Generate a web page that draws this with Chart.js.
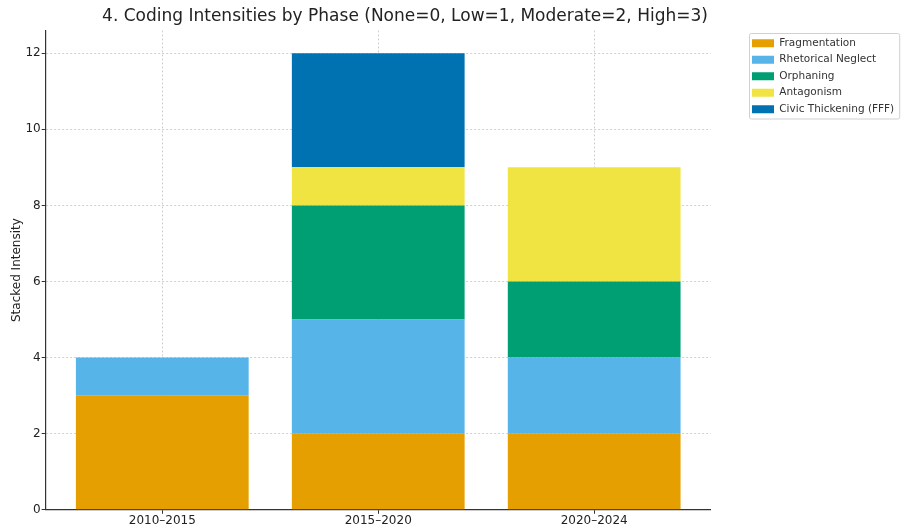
<!DOCTYPE html>
<html>
<head>
<meta charset="utf-8">
<script src="https://cdn.jsdelivr.net/npm/chart.js@4.4.1/dist/chart.umd.min.js"></script>
<style>
  html, body { margin: 0; padding: 0; background: #fff; }
  #wrap { width: 905px; height: 527px; }
</style>
</head>
<body>
<div id="wrap"><canvas id="phaseChart" width="905" height="527"></canvas></div>
<script>
// phases and coded intensities (None=0, Low=1, Moderate=2, High=3)
const phases = ['2010–2015', '2015–2020', '2020–2024'];
const fragmentation = [3, 2, 2];
const rhetoricalNeglect = [1, 3, 2];
const orphaning = [0, 3, 2];
const antagonism = [0, 1, 3];
const civicThickening = [0, 3, 0];
const yTicks = [0, 2, 4, 6, 8, 10, 12];

const toPoints = arr => arr.map((v, i) => ({ x: i, y: v }));

const font = "'DejaVu Sans', sans-serif";
const gridColor = 'rgba(150, 150, 150, 0.45)';

// box around the legend, like matplotlib's frame
const legendFrame = {
    id: 'legendFrame',
    afterDraw(chart) {
        const boxes = chart.legend && chart.legend.legendHitBoxes;
        if (!boxes || !boxes.length) return;
        const l = Math.min(...boxes.map(b => b.left)) - 3;
        const t = Math.min(...boxes.map(b => b.top)) - 5;
        const r = Math.max(...boxes.map(b => b.left + b.width)) + 5;
        const btm = Math.max(...boxes.map(b => b.top + b.height)) + 4;
        const ctx = chart.ctx;
        ctx.save();
        ctx.strokeStyle = '#d0d0d0';
        ctx.lineWidth = 1;
        ctx.beginPath();
        ctx.roundRect(l + 0.5, t + 0.5, r - l, btm - t, 2);
        ctx.stroke();
        ctx.restore();
    }
};

// title centred a bit right of the plot, legend moved next to the axes
const placeBoxes = {
    id: 'placeBoxes',
    afterLayout(chart) {
        const tb = chart.titleBlock;
        if (tb) { tb.left = 0; tb.right = 810; }
        const lg = chart.legend;
        if (lg) {
            const dx = 746 - lg.left, dy = 32 - lg.top;
            lg.left += dx; lg.right += dx;
            lg.top += dy; lg.bottom += dy;
        }
    }
};

const ctx = document.getElementById('phaseChart').getContext('2d');

const myChart = new Chart(ctx, {
    type: 'bar',
    data: {
        datasets: [
            { label: 'Fragmentation', data: toPoints(fragmentation), backgroundColor: '#E69F00' },
            { label: 'Rhetorical Neglect', data: toPoints(rhetoricalNeglect), backgroundColor: '#56B4E9' },
            { label: 'Orphaning', data: toPoints(orphaning), backgroundColor: '#009E73' },
            { label: 'Antagonism', data: toPoints(antagonism), backgroundColor: '#F0E442' },
            { label: 'Civic Thickening (FFF)', data: toPoints(civicThickening), backgroundColor: '#0072B2' }
        ]
    },
    options: {
        responsive: false,
        animation: false,
        barPercentage: 1,
        categoryPercentage: 0.8,
        layout: { padding: { left: 10, right: 36, top: 0, bottom: 0 } },
        plugins: {
            legend: {
                position: 'right',
                align: 'start',
                labels: {
                    boxWidth: 22,
                    boxHeight: 8,
                    padding: 6,
                    color: '#333',
                    font: { family: font, size: 10.5 }
                }
            },
            title: {
                display: true,
                text: '4. Coding Intensities by Phase (None=0, Low=1, Moderate=2, High=3)',
                color: '#222',
                font: { family: font, size: 17, weight: 'normal' },
                padding: { top: 6, bottom: 4 }
            },
            tooltip: { enabled: false }
        },
        scales: {
            x: {
                type: 'linear',
                stacked: true,
                min: -0.54,
                max: 2.54,
                offset: false,
                afterBuildTicks: scale => {
                    scale.ticks = phases.map((p, i) => ({ value: i }));
                },
                ticks: {
                    autoSkip: false,
                    maxRotation: 0,
                    color: '#222',
                    font: { family: font, size: 12, lineHeight: 1.1 },
                    padding: 0,
                    callback: v => phases[v]
                },
                grid: {
                    offset: false,
                    color: gridColor,
                    tickColor: '#333',
                    tickLength: 4,
                    tickBorderDash: []
                },
                border: { display: true, color: '#333', width: 1.2, dash: [2, 2] },
                z: 1
            },
            y: {
                stacked: true,
                min: 0,
                max: 12.6,
                afterBuildTicks: scale => {
                    scale.ticks = yTicks.map(v => ({ value: v }));
                },
                ticks: {
                    color: '#222',
                    font: { family: font, size: 12 },
                    padding: 1
                },
                grid: {
                    color: gridColor,
                    tickColor: '#333',
                    tickLength: 4,
                    tickBorderDash: []
                },
                border: { display: true, color: '#333', width: 1.2, dash: [2, 2] },
                title: {
                    display: true,
                    text: 'Stacked Intensity',
                    color: '#222',
                    font: { family: font, size: 12 },
                    padding: { top: 0, bottom: 0 }
                },
                z: 1
            }
        }
    },
    plugins: [legendFrame, placeBoxes]
});
</script>
</body>
</html>
